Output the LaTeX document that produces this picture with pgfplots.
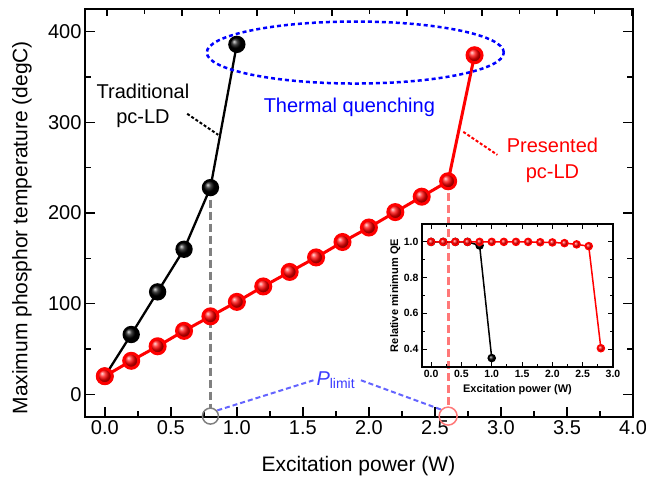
\documentclass[border=0pt]{standalone}
\usepackage{fontspec}
\setmainfont{Liberation Sans}
\usepackage{pgfplots}
\pgfplotsset{compat=1.18}
\definecolor{dgray}{RGB}{128,128,128}
\definecolor{lred}{RGB}{255,120,120}
\definecolor{lblue}{RGB}{100,100,255}
\begin{document}
\begin{tikzpicture}
\path[use as bounding box] (-85pt,-66pt) rectangle (561pt,417pt);
% main axis
\begin{axis}[
  at={(0,0)}, anchor=south west,
  scale only axis, width=548pt, height=408pt,
  xmin=-0.15, xmax=4.0, ymin=-25, ymax=425,
  xtick={0,0.5,...,4}, ytick={0,100,...,400},
  minor x tick num=1, minor y tick num=1,
  xtick pos=bottom, ytick pos=both,
  tick align=inside,
  major tick length=10pt, minor tick length=6pt,
  axis line style={line width=2pt},
  every tick/.style={black, line width=1.5pt},
  /pgf/number format/assume math mode=true,
  tick label style={font=\fontsize{20}{24}\selectfont},
  xticklabel style={/pgf/number format/.cd, fixed, fixed zerofill, precision=1},
  xlabel={Excitation power (W)},
  ylabel={Maximum phosphor temperature (degC)},
  xlabel style={at={(axis description cs:0.499,-0.12)}, anchor=center, font=\fontsize{21}{25}\selectfont},
  ylabel style={at={(axis description cs:-0.115,0.464)}, anchor=center, rotate=0, font=\fontsize{21}{25}\selectfont},
  clip=false,
]
% guide lines
\addplot[dgray, line width=3pt, dash pattern=on 8pt off 4pt] coordinates {(0.8,228) (0.8,-16)};
\addplot[lred, line width=3pt, dash pattern=on 8pt off 4pt] coordinates {(2.6,235) (2.6,-15)};
\addplot[only marks, mark=o, mark size=8pt, mark options={dgray, line width=1.5pt}] coordinates {(0.8,-24)};
\addplot[only marks, mark=o, mark size=9pt, mark options={lred, line width=1.5pt}] coordinates {(2.6,-24)};
\addplot[lblue, line width=2pt, dash pattern=on 5pt off 3pt] coordinates {(0.852,-17.7) (1.58,15.5)};
\addplot[lblue, line width=2pt, dash pattern=on 5pt off 3pt] coordinates {(1.94,15.5) (2.563,-17.7)};
% data
\addplot[black, line width=2.3pt, mark=ball, mark size=7.5pt, mark options={ball color=black}]
  coordinates {(0,20) (0.2,66) (0.4,113) (0.6,160) (0.8,228) (1.0,386)};
\addplot[red, line width=3pt, mark=ball, mark size=7.5pt, mark options={ball color=red}]
  coordinates {(0,20) (0.2,37) (0.4,53) (0.6,70) (0.8,86) (1.0,102) (1.2,119) (1.4,135) (1.6,151) (1.8,168) (2.0,184) (2.2,201) (2.4,218) (2.6,235) (2.8,374)};
% annotations
\draw[blue, line width=2.5pt, dash pattern=on 4pt off 3pt] (axis cs:1.897,377) ellipse [x radius=148.5pt, y radius=31pt];
\node[blue, font=\fontsize{20}{24}\selectfont] at (axis cs:1.852,317) {Thermal quenching};
\node[black, align=center, font=\fontsize{20}{25}\selectfont] at (axis cs:0.289,318) {Traditional\\pc-LD};
\node[red, align=center, font=\fontsize{20}{26}\selectfont] at (axis cs:3.39,258.6) {Presented\\pc-LD};
\draw[black, line width=2pt, dash pattern=on 3pt off 2pt] (axis cs:0.624,309.4) -- (axis cs:0.859,286.2);
\draw[red, line width=2pt, dash pattern=on 3pt off 2pt] (axis cs:2.715,289.5) -- (axis cs:2.973,264.1);
\node[lblue!60!blue, font=\fontsize{20}{24}\selectfont] at (axis cs:1.75,16) {\textit{P}\textsubscript{limit}};
\end{axis}
% top ticks overlay
\begin{axis}[
  at={(0,0)}, anchor=south west,
  scale only axis, width=548pt, height=408pt,
  xmin=85, xmax=633, ymin=0, ymax=1,
  axis x line*=top, axis y line=none,
  xtick={107,182,257,332,407,482,557,632}, xticklabels={},
  minor x tick num=1, tick align=inside,
  major tick length=7pt, minor tick length=5pt,
  axis line style={line width=2pt, -},
  every tick/.style={black, line width=1.5pt},
]
\addplot[draw=none] coordinates {(100,0.5)};
\end{axis}
% inset
\begin{axis}[
  at={(337pt,50pt)}, anchor=south west,
  scale only axis, width=191pt, height=143pt,
  xmin=-0.15, xmax=3.0, ymin=0.3, ymax=1.1,
  xtick={0,0.5,...,3}, ytick={0.4,0.6,0.8,1.0},
  minor x tick num=1, minor y tick num=1,
  tick align=inside,
  major tick length=5pt, minor tick length=3pt,
  axis line style={line width=1.2pt},
  every tick/.style={black, line width=1pt},
  /pgf/number format/assume math mode=true,
  tick label style={font=\fontsize{10.5}{12}\selectfont\bfseries},
  xticklabel style={/pgf/number format/.cd, fixed, fixed zerofill, precision=1},
  yticklabel style={/pgf/number format/.cd, fixed, fixed zerofill, precision=1},
  xlabel={Excitation power (W)},
  ylabel={Relative minimum QE},
  xlabel style={at={(axis description cs:0.5,-0.16)}, anchor=center, font=\fontsize{11}{13}\selectfont\bfseries},
  ylabel style={at={(axis description cs:-0.14,0.5)}, anchor=center, rotate=0, font=\fontsize{11}{13}\selectfont\bfseries},
  clip=false,
]
\addplot[black, line width=1.5pt, mark=ball, mark size=3.5pt, mark options={ball color=black}]
  coordinates {(0,1.0) (0.2,1.0) (0.4,1.0) (0.6,1.0) (0.8,0.98) (1.0,0.35)};
\addplot[red, line width=1.5pt, mark=ball, mark size=3.5pt, mark options={ball color=red}]
  coordinates {(0,1.0) (0.2,1.0) (0.4,1.0) (0.6,1.0) (0.8,1.0) (1.0,1.0) (1.2,1.0) (1.4,1.0) (1.6,1.0) (1.8,0.998) (2.0,0.997) (2.2,0.993) (2.4,0.986) (2.6,0.976) (2.8,0.405)};
\end{axis}
\end{tikzpicture}
\end{document}
